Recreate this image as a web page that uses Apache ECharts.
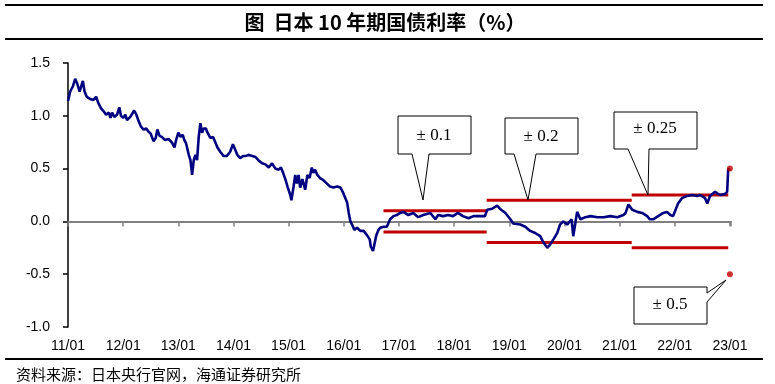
<!DOCTYPE html>
<html><head><meta charset="utf-8">
<script src="https://cdn.jsdelivr.net/npm/echarts@6/dist/echarts.min.js"></script>
<style>html,body{margin:0;padding:0;background:#fff}#c{width:775px;height:384px}</style>
</head><body><div id="c"></div>
<script>
const titleText = '图  日本 10 年期国债利率（%）';
const sourceText = '资料来源：日本央行官网，海通证券研究所';
const xTickYears = [2011,2012,2013,2014,2015,2016,2017,2018,2019,2020,2021,2022,2023];
const xTickLabels = ['11/01','12/01','13/01','14/01','15/01','16/01','17/01','18/01','19/01','20/01','21/01','22/01','23/01'];
const yTicks = [-1.0,-0.5,0.0,0.5,1.0,1.5];

// JGB 10Y yield, time in decimal years, value in %
const times2011_2012 = [2011.00,2011.04,2011.09,2011.13,2011.17,2011.21,2011.27,2011.30,2011.34,2011.40,2011.46,2011.51,2011.55,2011.60,2011.65,2011.69,2011.74,2011.77,2011.80,2011.84,2011.89,2011.93,2011.96,2012.00,2012.04,2012.07,2012.13,2012.20,2012.24,2012.28,2012.32,2012.37,2012.42,2012.46,2012.50,2012.55,2012.59,2012.62,2012.66,2012.70,2012.76,2012.82,2012.88,2012.93,2012.96];
const yields2011_2012 = [1.14,1.23,1.28,1.35,1.30,1.23,1.33,1.23,1.18,1.16,1.15,1.18,1.12,1.07,1.04,1.01,1.03,0.98,1.03,0.99,1.01,1.08,1.00,0.98,1.01,0.96,0.99,1.05,1.01,0.95,0.90,0.87,0.88,0.85,0.83,0.76,0.79,0.87,0.81,0.80,0.77,0.78,0.75,0.70,0.77];
const times2013_2015 = [2013.00,2013.04,2013.08,2013.11,2013.14,2013.19,2013.22,2013.25,2013.28,2013.31,2013.34,2013.37,2013.40,2013.43,2013.46,2013.50,2013.53,2013.58,2013.63,2013.67,2013.71,2013.76,2013.82,2013.88,2013.94,2013.99,2014.03,2014.07,2014.12,2014.18,2014.23,2014.27,2014.34,2014.40,2014.45,2014.52,2014.58,2014.64,2014.70,2014.76,2014.82,2014.86,2014.90,2014.94,2014.98,2015.03,2015.05,2015.09,2015.12,2015.15,2015.18,2015.21,2015.25,2015.30,2015.34,2015.38,2015.42,2015.45,2015.48,2015.52,2015.57,2015.63,2015.69,2015.75,2015.81,2015.88,2015.94,2015.99];
const yields2013_2015 = [0.84,0.80,0.82,0.77,0.74,0.63,0.58,0.44,0.58,0.63,0.58,0.80,0.93,0.84,0.88,0.88,0.84,0.79,0.80,0.75,0.70,0.66,0.62,0.62,0.66,0.73,0.68,0.63,0.60,0.62,0.62,0.63,0.62,0.61,0.58,0.55,0.54,0.51,0.55,0.50,0.49,0.51,0.46,0.40,0.33,0.25,0.20,0.33,0.44,0.36,0.44,0.32,0.40,0.30,0.44,0.41,0.51,0.46,0.49,0.44,0.41,0.39,0.36,0.33,0.32,0.33,0.32,0.27];
const times2016_2018 = [2016.06,2016.09,2016.12,2016.15,2016.19,2016.24,2016.30,2016.36,2016.42,2016.47,2016.49,2016.53,2016.56,2016.59,2016.63,2016.66,2016.72,2016.78,2016.84,2016.90,2016.96,2017.02,2017.08,2017.17,2017.26,2017.35,2017.44,2017.57,2017.66,2017.71,2017.80,2017.89,2017.98,2018.07,2018.16,2018.26,2018.35,2018.47,2018.56,2018.60,2018.69,2018.78,2018.83,2018.93];
const yields2016_2018 = [0.18,0.08,0.00,-0.03,-0.08,-0.06,-0.09,-0.09,-0.13,-0.17,-0.24,-0.28,-0.27,-0.13,-0.08,-0.06,-0.05,-0.05,0.02,0.05,0.06,0.08,0.09,0.06,0.08,0.04,0.06,0.08,0.02,0.06,0.05,0.06,0.05,0.08,0.05,0.03,0.05,0.05,0.05,0.11,0.12,0.15,0.12,0.08];
const times2019_2023 = [2019.02,2019.07,2019.20,2019.29,2019.38,2019.47,2019.56,2019.62,2019.69,2019.74,2019.80,2019.87,2019.92,2019.98,2020.05,2020.13,2020.16,2020.23,2020.29,2020.38,2020.47,2020.60,2020.71,2020.83,2020.96,2021.07,2021.11,2021.16,2021.23,2021.32,2021.41,2021.50,2021.55,2021.61,2021.70,2021.79,2021.86,2021.92,2021.97,2022.03,2022.06,2022.13,2022.22,2022.32,2022.41,2022.46,2022.55,2022.59,2022.64,2022.73,2022.82,2022.91,2022.95,2022.97,2023.00];
const yields2019_2023 = [0.02,-0.02,-0.03,-0.05,-0.09,-0.11,-0.14,-0.20,-0.25,-0.22,-0.17,-0.11,-0.03,0.00,-0.03,0.02,-0.14,0.09,0.02,0.04,0.05,0.04,0.04,0.05,0.04,0.06,0.08,0.16,0.11,0.09,0.08,0.05,0.02,0.02,0.05,0.08,0.09,0.06,0.05,0.13,0.17,0.22,0.24,0.25,0.24,0.25,0.22,0.17,0.24,0.28,0.25,0.26,0.28,0.50,0.48];

// BOJ YCC tolerance bands
const bandStart = [2016.72, 2018.59, 2021.22];
const bandEnd   = [2018.59, 2021.22, 2022.97];
const bandHalf  = [0.10, 0.20, 0.25];
const lastBandTime = 2023.00;
const lastBandHalf = 0.50;
const calloutTexts = ['± 0.1','± 0.2','± 0.25','± 0.5'];

const allTimes = [].concat(times2011_2012, times2013_2015, times2016_2018, times2019_2023);
const allYields = [].concat(yields2011_2012, yields2013_2015, yields2016_2018, yields2019_2023);
const lineData = allTimes.map((t,i)=>[t, allYields[i]]);

const RED = '#C00000';
const bandSeries = [];
bandHalf.forEach((h,i)=>{
  [h,-h].forEach(v=>{
    bandSeries.push({type:'line', xAxisIndex:0, data:[[bandStart[i],v],[bandEnd[i],v]], symbol:'none',
      lineStyle:{color:RED,width:3}, z:3, silent:true, animation:false});
  });
});

const chart = echarts.init(document.getElementById('c'), null, {renderer:'canvas'});
const labelFont = {fontFamily:'Liberation Sans, Arial', fontSize:14, color:'#000'};
const axisBase = {type:'value', min:2011, max:2023.02, interval:1};

function poly(points){
  return {type:'polygon', shape:{points}, style:{fill:'#fff', stroke:'#000', lineWidth:1}, z:10};
}
function ctext(x,y,t){
  return {type:'text', x, y, style:{text:t, fill:'#000', font:'17px "Liberation Serif", "Times New Roman", serif', align:'center', verticalAlign:'middle'}, z:11};
}
function hline(y){
  return {type:'line', shape:{x1:5,y1:y,x2:763,y2:y}, style:{stroke:'#000', lineWidth:2}, z:10};
}

chart.setOption({
  animation:false,
  backgroundColor:'#fff',
  grid:{left:68, right:44, top:63, bottom:57, containLabel:false},
  xAxis:[
    Object.assign({}, axisBase, {position:'bottom',
      axisLine:{show:false, onZero:false}, axisTick:{show:false}, splitLine:{show:false},
      axisLabel:Object.assign({margin:12, formatter:(v)=>{const i=xTickYears.indexOf(Math.round(v)); return i>=0?xTickLabels[i]:'';}}, labelFont)}),
    Object.assign({}, axisBase, {position:'bottom',
      axisLine:{show:true, onZero:true, lineStyle:{color:'#808080', width:2}},
      axisTick:{show:true, inside:false, length:5, lineStyle:{color:'#808080', width:1.5}},
      axisLabel:{show:false}, splitLine:{show:false}})
  ],
  yAxis:{type:'value', min:yTicks[0], max:yTicks[yTicks.length-1], interval:0.5,
    axisLine:{show:true, onZero:false, lineStyle:{color:'#000', width:1.5}},
    axisTick:{show:true, inside:false, length:5, lineStyle:{color:'#000', width:1.5}},
    splitLine:{show:false},
    axisLabel:Object.assign({margin:18, formatter:(v)=>v.toFixed(1)}, labelFont)},
  series:[
    ...bandSeries,
    {type:'scatter', data:[[lastBandTime,lastBandHalf],[lastBandTime,-lastBandHalf]], symbolSize:6,
      itemStyle:{color:RED}, z:6, silent:true},
    {type:'line', data:lineData, symbol:'none', lineStyle:{color:'#000080', width:2.6}, z:5, silent:true}
  ],
  graphic:[
    hline(5), hline(39), hline(359),
    {type:'text', x:385, y:22, style:{text:titleText, fill:'#000', font:'bold 20px "Noto Sans CJK SC", sans-serif', align:'center', verticalAlign:'middle'}, z:10},
    {type:'text', x:16, y:374, style:{text:sourceText, fill:'#000', font:'15px "Noto Sans CJK SC", sans-serif', align:'left', verticalAlign:'middle'}, z:10},
    poly([[398,116],[471,116],[471,154],[429,154],[423,200],[412,154],[398,154]]),
    ctext(434,136,calloutTexts[0]),
    poly([[505,118],[578,118],[578,154],[536,154],[528,200],[514,154],[505,154]]),
    ctext(541,137,calloutTexts[1]),
    poly([[614,112],[697,112],[697,149],[649,149],[648,195],[628,149],[614,149]]),
    ctext(655,129,calloutTexts[2]),
    poly([[634,287],[707,287],[707,293],[726,280],[707,302],[707,324],[634,324]]),
    ctext(670,305,calloutTexts[3])
  ]
});
</script></body></html>
